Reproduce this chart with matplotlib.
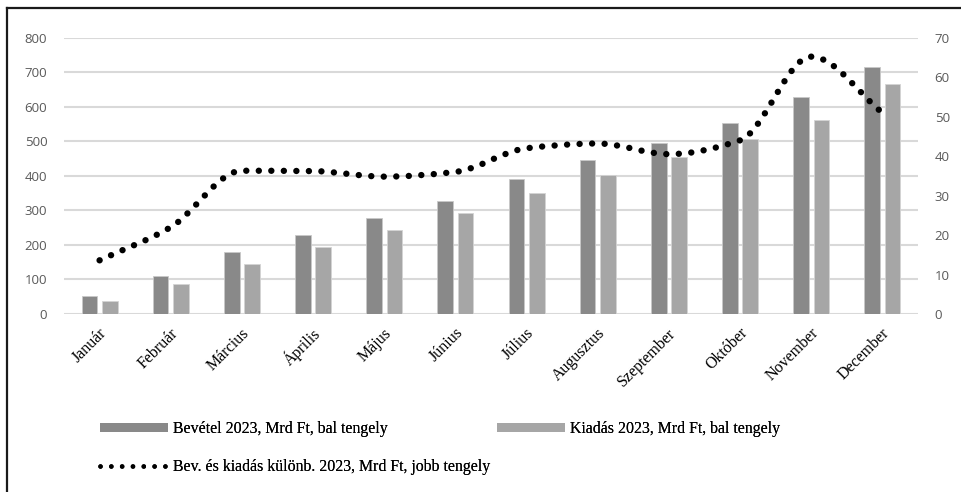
import numpy as np
import matplotlib
matplotlib.use("Agg")
import matplotlib.pyplot as plt
import matplotlib.transforms as mtransforms
from matplotlib.path import Path
from matplotlib.patches import PathPatch, Patch
from matplotlib.lines import Line2D

# --- data -------------------------------------------------------------
months = ["Január", "Február", "Március", "Április", "Május", "Június",
          "Július", "Augusztus", "Szeptember", "Október", "November", "December"]
bevetel = [53, 109, 180, 229, 277, 327, 390, 445, 496, 552, 628, 715]
kiadas = [39, 87, 145, 193, 242, 291, 349, 402, 456, 508, 563, 665]
kulonbseg = [13.6, 22.0, 36.3, 36.2, 34.8, 36.0, 42.0, 43.2, 40.5, 44.0, 65.2, 51.0]

left_ticks = [0, 100, 200, 300, 400, 500, 600, 700, 800]
right_ticks = [0, 10, 20, 30, 40, 50, 60, 70]

label_bev = "Bevétel 2023, Mrd Ft, bal tengely"
label_kia = "Kiadás 2023, Mrd Ft, bal tengely"
label_kul = "Bev. és kiadás különb. 2023, Mrd Ft, jobb tengely"

# --- style ------------------------------------------------------------
c_dark = "#898989"
c_light = "#a6a6a6"
c_grid = "#d9d9d9"
c_tick = "#595959"
serif = "Liberation Serif"
sans = "Open Sans"

W, H = 961, 492
fig = plt.figure(figsize=(W / 100, H / 100), dpi=100)
ax = fig.add_axes([64 / W, 1 - 314 / H, (918 - 64) / W, (314 - 37.7) / H])
ax2 = ax.twinx()

x = np.arange(len(months))
bw = 0.22
off = 0.143
ax.bar(x - off, bevetel, bw, color=c_dark, edgecolor="#c8c8c8", linewidth=0.6, zorder=3)
ax.bar(x + off, kiadas, bw, color=c_light, edgecolor="#d4d4d4", linewidth=0.6, zorder=3)

ax.set_xlim(-0.5, len(months) - 0.5)
ax.set_ylim(0, 800)
ax.set_yticks(left_ticks)
ax.set_yticklabels([str(v) for v in left_ticks], fontfamily=sans, fontsize=9.5, color=c_tick)
ax.yaxis.grid(True, color=c_grid, linewidth=1.5, zorder=0)
ax.set_axisbelow(True)
ax.tick_params(axis="y", length=0, pad=12)
ax.set_xticks(x)
ax.set_xticklabels(months, rotation=45, ha="right", va="center",
                   rotation_mode="anchor", fontfamily=serif, fontsize=11.5, color="#000000")
ax.tick_params(axis="x", length=0, pad=12)
shift = mtransforms.ScaledTranslation(5 / 100, 0, fig.dpi_scale_trans)
for t in ax.get_xticklabels():
    t.set_transform(t.get_transform() + shift)
for s in ax.spines.values():
    s.set_visible(False)
for s in ax2.spines.values():
    s.set_visible(False)

ax2.set_ylim(0, 70)
ax2.set_yticks(right_ticks)
ax2.set_yticklabels([str(v) for v in right_ticks], fontfamily=sans, fontsize=9.5, color=c_tick)
ax2.tick_params(axis="y", length=0, pad=12)

# smoothed difference line: cubic Bezier segments with monotone tangents
yy = np.asarray(kulonbseg, dtype=float)
d = np.diff(yy)
m = np.zeros_like(yy)
m[0], m[-1] = d[0], d[-1]
for i in range(1, len(yy) - 1):
    if d[i - 1] * d[i] > 0:
        m[i] = 2 * d[i - 1] * d[i] / (d[i - 1] + d[i])
verts = [(x[0], yy[0])]
codes = [Path.MOVETO]
for i in range(len(yy) - 1):
    verts += [(x[i] + 1 / 3, yy[i] + m[i] / 3),
              (x[i + 1] - 1 / 3, yy[i + 1] - m[i + 1] / 3),
              (x[i + 1], yy[i + 1])]
    codes += [Path.CURVE4] * 3
curve = PathPatch(Path(verts, codes), fill=False, edgecolor="black",
                  linewidth=4.6, linestyle=(0, (0.01, 1.95)), zorder=5)
curve.set_capstyle("round")
ax2.add_patch(curve)

# legend entries
h_bev = Patch(facecolor=c_dark, edgecolor="none")
h_kia = Patch(facecolor=c_light, edgecolor="none")
h_kul = Line2D([], [], color="black", linewidth=3.3, linestyle=(0, (0.01, 2.35)),
               dash_capstyle="round")
leg_kw = dict(frameon=False, borderpad=0, borderaxespad=0, handlelength=4.3,
              handleheight=0.45, handletextpad=0.32,
              prop={"family": serif, "size": 11.4})
for h, lab, px, py in [(h_bev, label_bev, 100, 429), (h_kia, label_kia, 497, 429),
                       (h_kul, label_kul, 100, 467)]:
    lg = fig.legend([h], [lab], loc="center left",
                    bbox_to_anchor=(px / W, 1 - py / H), **leg_kw)
    fig.add_artist(lg)

# outer frame (left and top edges)
fig.add_artist(Line2D([7 / W, 7 / W], [0, 1 - 8 / H], transform=fig.transFigure,
                      color="#1a1a1a", linewidth=1.6, solid_capstyle="projecting"))
fig.add_artist(Line2D([7 / W, 1], [1 - 8 / H, 1 - 8 / H], transform=fig.transFigure,
                      color="#1a1a1a", linewidth=1.6, solid_capstyle="projecting"))

fig.savefig("out.png", dpi=100, facecolor="white")
